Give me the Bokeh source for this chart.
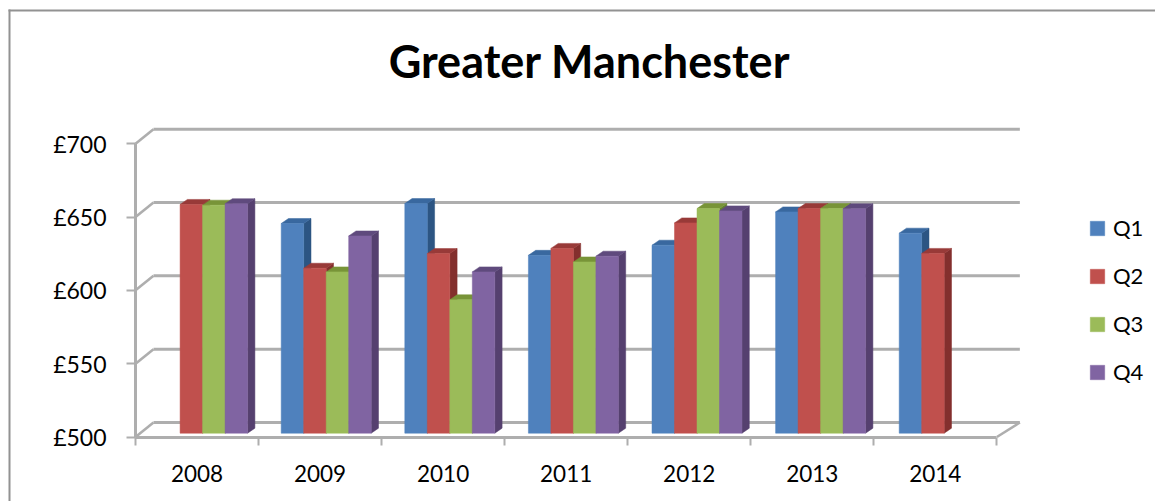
from bokeh.plotting import figure
from bokeh.models import (Range1d, FixedTicker, Legend, LegendItem, Label, BoxAnnotation,
                          ColumnDataSource)
from bokeh.embed import file_html
from bokeh.resources import INLINE

TITLE = "Greater Manchester"
years = ["2008", "2009", "2010", "2011", "2012", "2013", "2014"]
value_ticks = [500, 550, 600, 650, 700]
tick_labels = ["£500", "£550", "£600", "£650", "£700"]
series_names = ["Q1", "Q2", "Q3", "Q4"]
q1 = [None, 643, 656.6, 621.3, 628.2, 650.9, 636.4]
q2 = [656, 612.5, 622.5, 626, 643.4, 653.2, 622.6]
q3 = [655.5, 610, 591, 616.8, 653.2, 653.2, None]
q4 = [656.5, 634.5, 610, 620.7, 651.6, 653, None]
front_colors = ["#4f81bd", "#c0504d", "#9bbb59", "#8064a2"]
top_colors = ["#39689f", "#983a38", "#789438", "#5f4a7d"]
side_colors = ["#2c5583", "#832f2d", "#64802f", "#55406f"]

GRID = "#aeaeae"
W, H = 1155, 501
PX_PER_CAT, PX_PER_VAL = 123.05, 1.4665
ORIGIN_X, ORIGIN_Y = 135, 436.5          # canvas pixel of category 0 / value 500


def dx(px):
    return px / PX_PER_CAT


def dy(px):
    return px / PX_PER_VAL


p = figure(width=W, height=H, output_backend="svg", toolbar_location=None,
           x_range=Range1d(dx(-ORIGIN_X), dx(W - ORIGIN_X)),
           y_range=Range1d(500 - dy(H - ORIGIN_Y), 500 + dy(ORIGIN_Y)),
           min_border=0, min_border_left=0, min_border_right=0, min_border_top=0,
           min_border_bottom=0, outline_line_color=None, background_fill_color="white",
           border_fill_color="white")
p.grid.visible = False

# outer chart-area border, only its left and top are inside the picture
p.add_layout(BoxAnnotation(left=8, right=10, top=H - 9, bottom=0,
                           left_units="screen", right_units="screen",
                           top_units="screen", bottom_units="screen",
                           fill_color="#929292", fill_alpha=1, line_alpha=0, level="underlay"))
p.add_layout(BoxAnnotation(left=8, right=W, top=H - 9, bottom=H - 11,
                           left_units="screen", right_units="screen",
                           top_units="screen", bottom_units="screen",
                           fill_color="#929292", fill_alpha=1, line_alpha=0, level="underlay"))

# 3-D box: back wall, side wall, floor
WALL_X, WALL_Y = dx(18), dy(14.5)
n = len(years)
back_y = [v + WALL_Y for v in value_ticks]
BACK_END = n + dx(23)
p.segment(x0=[WALL_X] * 5, x1=[BACK_END] * 5, y0=back_y, y1=back_y,
          line_color=GRID, line_width=3)
p.segment(x0=[0.0] * 5, x1=[WALL_X] * 5, y0=value_ticks, y1=back_y,
          line_color=GRID, line_width=2.6)
p.segment(x0=[float(n)], x1=[BACK_END], y0=[500], y1=[500 + WALL_Y],
          line_color=GRID, line_width=2.6)

# bars
BAR_W = dx(22.5)
BAR_STEP = dx(123.6)
BAR_START = dx(157.1 - 135)
DEPTH_X, DEPTH_Y = dx(7.3), dy(5)
FLOOR = 500 + dy(3.8)
front_renderers = []
for s, vals in enumerate([q1, q2, q3, q4]):
    lefts, rights, tops = [], [], []
    for i, v in enumerate(vals):
        if v is None:
            continue
        l = BAR_START + i * BAR_STEP + s * BAR_W
        lefts.append(l)
        rights.append(l + BAR_W)
        tops.append(v + dy(3.8))
    side_x = [[r, r + DEPTH_X, r + DEPTH_X, r] for r in rights]
    side_y = [[FLOOR, FLOOR + DEPTH_Y, t + DEPTH_Y, t] for t in tops]
    top_x = [[l, l + DEPTH_X, r + DEPTH_X, r] for l, r in zip(lefts, rights)]
    top_y = [[t, t + DEPTH_Y, t + DEPTH_Y, t] for t in tops]
    p.patches(side_x, side_y, fill_color=side_colors[s], line_color=side_colors[s], line_width=0.5)
    p.patches(top_x, top_y, fill_color=top_colors[s], line_color=top_colors[s], line_width=0.5)
    src = ColumnDataSource(dict(left=lefts, right=rights, top=tops, bottom=[FLOOR] * len(tops)))
    r = p.quad(left="left", right="right", top="top", bottom="bottom", source=src,
               fill_color=front_colors[s], line_color=front_colors[s], line_width=0.5)
    front_renderers.append(r)

# axes
ya = p.yaxis[0]
ya.fixed_location = 0
ya.bounds = (500, 700)
ya.ticker = FixedTicker(ticks=value_ticks)
ya.major_label_overrides = dict(zip(value_ticks, tick_labels))
ya.major_label_text_font = "Lato"
ya.major_label_text_font_size = "23px"
ya.major_label_text_color = "#000000"
ya.major_label_standoff = 20
ya.axis_line_color = GRID
ya.axis_line_width = 3
ya.major_tick_line_color = GRID
ya.major_tick_line_width = 2
ya.major_tick_out = 9
ya.major_tick_in = 0
ya.minor_tick_out = 0
ya.minor_tick_in = 0

xa = p.xaxis[0]
xa.fixed_location = 500
xa.bounds = (0, n)
mids = [i + 0.5 for i in range(n)]
xa.ticker = FixedTicker(ticks=mids, minor_ticks=list(range(n + 1)))
xa.major_label_overrides = dict(zip(mids, years))
xa.major_label_text_font = "Lato"
xa.major_label_text_font_size = "22.5px"
xa.major_label_text_color = "#000000"
xa.major_label_standoff = 20
xa.axis_line_color = GRID
xa.axis_line_width = 3
xa.major_tick_out = 0
xa.major_tick_in = 0
xa.minor_tick_line_color = GRID
xa.minor_tick_line_width = 2
xa.minor_tick_out = 8
xa.minor_tick_in = 0

# title
p.add_layout(Label(x=589, y=H - 60, x_units="screen", y_units="screen", text=TITLE,
                   text_font="Lato", text_font_style="bold", text_font_size="45px",
                   text_color="#000000", text_align="center", text_baseline="middle"))

# legend
legend = Legend(items=[LegendItem(label=nm, renderers=[r]) for nm, r in zip(series_names, front_renderers)],
                location=(1088, H - 385), orientation="vertical", background_fill_alpha=0,
                border_line_color=None, padding=0, margin=0, spacing=21,
                glyph_width=18, glyph_height=18, label_height=18, label_standoff=7,
                label_text_font="Lato", label_text_font_size="22px", label_text_color="#000000")
p.add_layout(legend)

open("out.html", "w").write(file_html(p, INLINE))
